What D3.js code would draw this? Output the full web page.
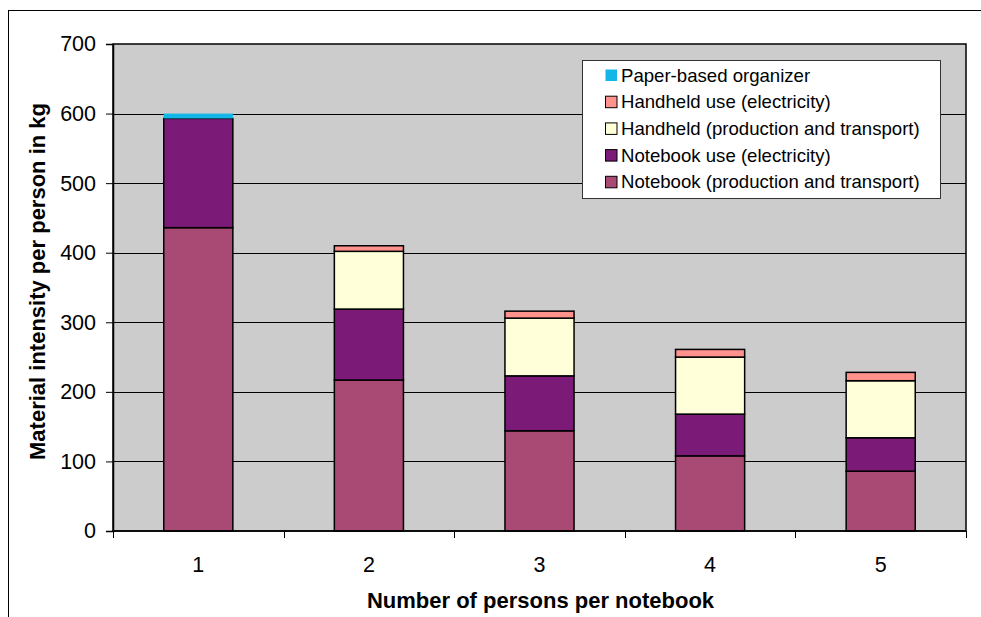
<!DOCTYPE html>
<html>
<head>
<meta charset="utf-8">
<script src="https://cdn.jsdelivr.net/npm/d3@7"></script>
<style>
	body { margin: 0; background: #fff; }
	svg { display: block; font-family: Arial, "Liberation Sans", sans-serif; }
</style>
</head>
<body>
<svg id="chart"></svg>
<script>
// persons per notebook
const categories = ["1", "2", "3", "4", "5"];
const notebookProd = [436, 217, 144, 108, 86];
const notebookUse = [157, 102, 79, 60, 48];
const handheldProd = [0, 83, 83, 82, 82];
const handheldUse = [0, 8, 10, 11, 12];
const paperOrganizer = [7, 0, 0, 0, 0];
const yTicks = [0, 100, 200, 300, 400, 500, 600, 700];

// stacking order, bottom to top
const seriesNames = [
	"Notebook (production and transport)",
	"Notebook use (electricity)",
	"Handheld (production and transport)",
	"Handheld use (electricity)",
	"Paper-based organizer",
];
const seriesColors = ["#A94A75", "#7B1A77", "#FFFFD9", "#FF928D", "#12B7E8"];

const width = 981, height = 617;
const plot = { left: 113, right: 966, top: 44, bottom: 531 };

const svg = d3.select("#chart").attr("width", width).attr("height", height);

// outer frame
svg.append("rect")
	.attr("x", 8.5).attr("y", 10.5)
	.attr("width", width).attr("height", height)
	.attr("fill", "none").attr("stroke", "#000").attr("stroke-width", 1);

const table = categories.map((c, i) => ({
	cat: c,
	s0: notebookProd[i],
	s1: notebookUse[i],
	s2: handheldProd[i],
	s3: handheldUse[i],
	s4: paperOrganizer[i],
}));
const keys = ["s0", "s1", "s2", "s3", "s4"];
const stacked = d3.stack().keys(keys)(table);

const x = d3.scaleBand().domain(categories).range([plot.left, plot.right]).padding(0);
const y = d3.scaleLinear().domain([0, 700]).range([plot.bottom, plot.top]);

// plot background
svg.append("rect")
	.attr("x", plot.left).attr("y", plot.top)
	.attr("width", plot.right - plot.left).attr("height", plot.bottom - plot.top)
	.attr("fill", "#CCCCCC").attr("stroke", "#000").attr("stroke-width", 1.5);

// gridlines
svg.append("g")
	.selectAll("line")
	.data(yTicks.slice(1, -1))
	.join("line")
	.attr("x1", plot.left).attr("x2", plot.right)
	.attr("y1", (d) => Math.round(y(d)) + 0.5).attr("y2", (d) => Math.round(y(d)) + 0.5)
	.attr("stroke", "#000").attr("stroke-width", 1);

// bars
const barW = x.bandwidth() * 0.405;
svg.append("g")
	.selectAll("g")
	.data(stacked)
	.join("g")
	.attr("fill", (d, i) => seriesColors[i])
	.attr("stroke", (d, i) => (i === 4 ? "none" : "#000"))
	.selectAll("rect")
	.data((d) => d.filter((p) => p[1] - p[0] > 0))
	.join("rect")
	.attr("x", (d) => x(d.data.cat) + (x.bandwidth() - barW) / 2)
	.attr("y", (d) => y(d[1]))
	.attr("width", barW)
	.attr("height", (d) => y(d[0]) - y(d[1]))
	.attr("stroke-width", 1.5);

// y axis
const yAxis = svg.append("g")
	.attr("transform", `translate(${plot.left},0)`)
	.call(d3.axisLeft(y).tickValues(yTicks).tickSize(7).tickPadding(10));
yAxis.select(".domain").attr("stroke", "#000").attr("stroke-width", 1.5);
yAxis.selectAll(".tick line").attr("stroke", "#000");
yAxis.selectAll("text").attr("font-size", 21.5).attr("fill", "#000")
	.attr("font-family", "Arial, 'Liberation Sans', sans-serif");

// x axis: ticks at category boundaries
const xAxisG = svg.append("g").attr("transform", `translate(0,${plot.bottom})`);
xAxisG.append("line")
	.attr("x1", plot.left).attr("x2", plot.right)
	.attr("stroke", "#000").attr("stroke-width", 1.5);
const bounds = categories.map((c) => x(c)).concat([plot.right]);
xAxisG.selectAll(".xt")
	.data(bounds)
	.join("line")
	.attr("class", "xt")
	.attr("x1", (d) => Math.round(d) + 0.5).attr("x2", (d) => Math.round(d) + 0.5)
	.attr("y1", 0).attr("y2", 7)
	.attr("stroke", "#000");
xAxisG.selectAll(".xl")
	.data(categories)
	.join("text")
	.attr("class", "xl")
	.attr("x", (d) => x(d) + x.bandwidth() / 2)
	.attr("y", 41)
	.attr("text-anchor", "middle")
	.attr("font-size", 21.5)
	.text((d) => d);

// axis titles
svg.append("text")
	.attr("x", (plot.left + plot.right) / 2 + 1)
	.attr("y", 608)
	.attr("text-anchor", "middle")
	.attr("font-size", 22)
	.attr("font-weight", "bold")
	.text("Number of persons per notebook");

svg.append("text")
	.attr("transform", `translate(45,${(plot.top + plot.bottom) / 2 - 6}) rotate(-90)`)
	.attr("text-anchor", "middle")
	.attr("font-size", 22)
	.attr("font-weight", "bold")
	.text("Material intensity per person in kg");

// legend, top series first
const legend = svg.append("g").attr("transform", "translate(582,60)");
legend.append("rect")
	.attr("x", 0.5).attr("y", 0.5)
	.attr("width", 358).attr("height", 138)
	.attr("fill", "#fff").attr("stroke", "#333").attr("stroke-width", 1);
const order = d3.range(seriesNames.length).reverse();
const items = legend.selectAll(".li")
	.data(order)
	.join("g")
	.attr("class", "li")
	.attr("transform", (d, i) => `translate(0,${i * 26.7})`);
items.append("rect")
	.attr("x", 23.5).attr("y", 9.5)
	.attr("width", 11.5).attr("height", 11.5)
	.attr("fill", (d) => seriesColors[d])
	.attr("stroke", (d) => (d === 4 ? "none" : "#000"))
	.attr("stroke-width", 1);
items.append("text")
	.attr("x", 39)
	.attr("y", 21.7)
	.attr("font-size", 18.6)
	.text((d) => seriesNames[d]);
</script>
</body>
</html>
